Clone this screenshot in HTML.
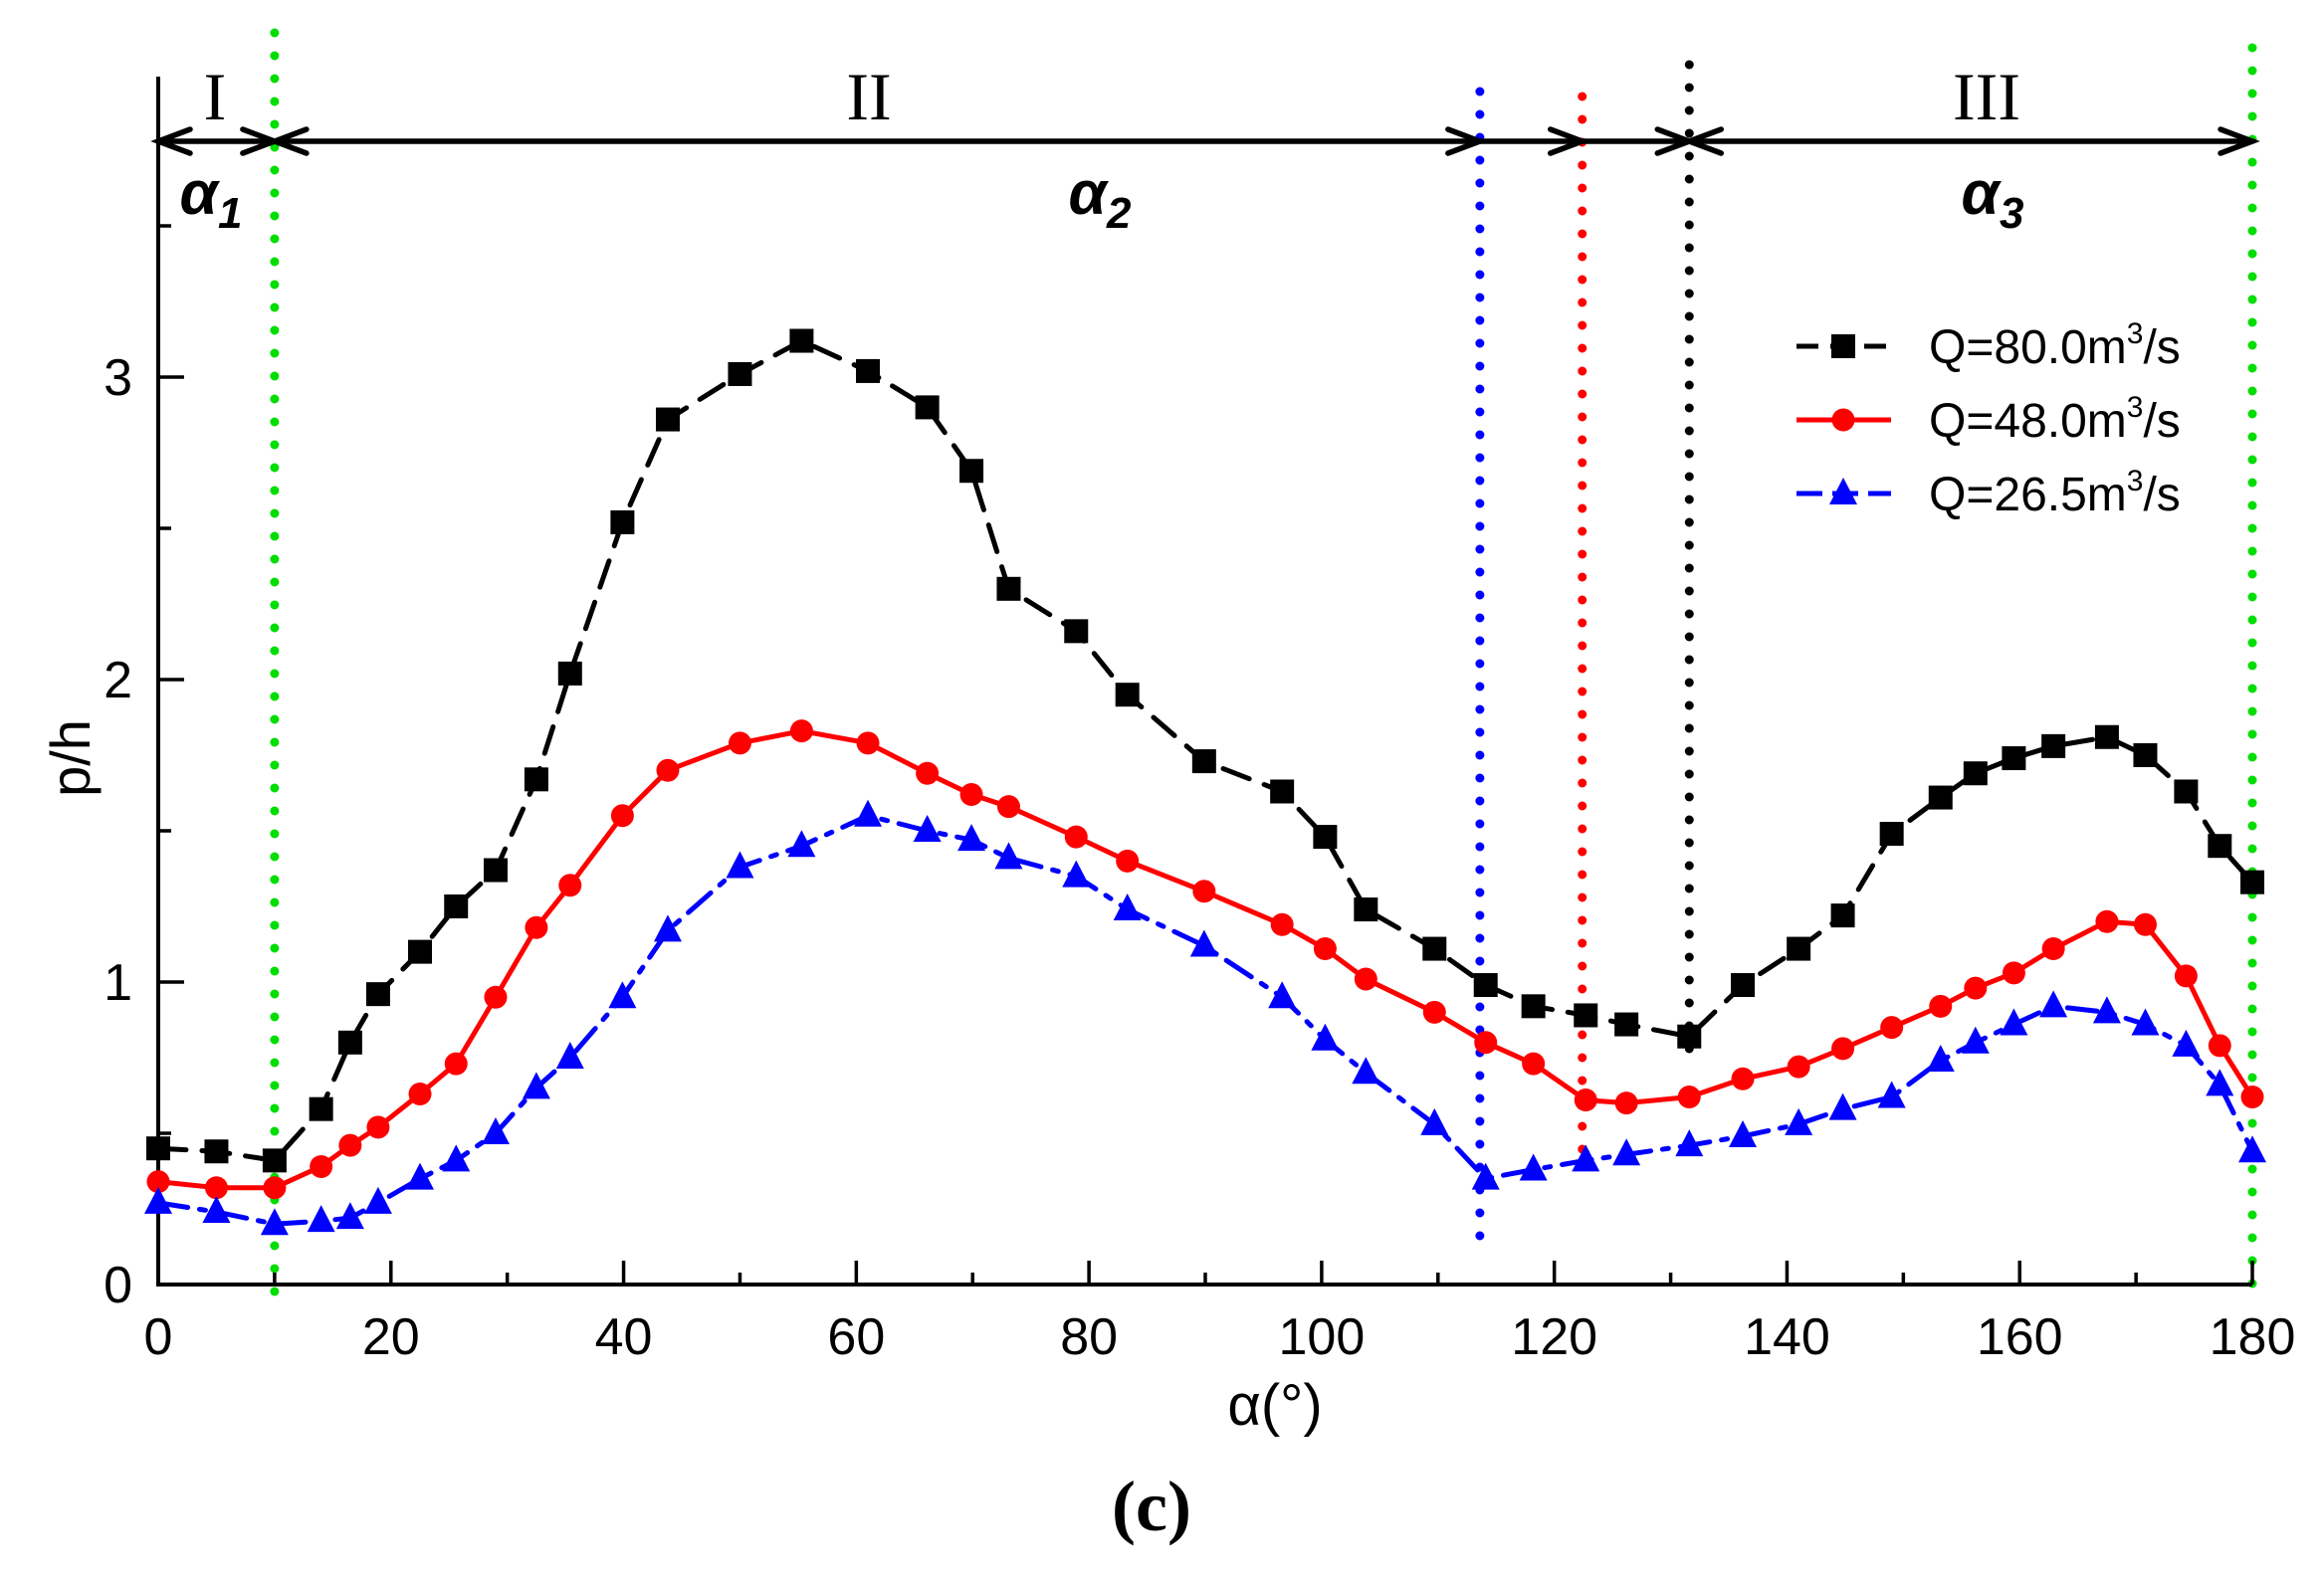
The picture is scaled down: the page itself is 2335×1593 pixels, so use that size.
<!DOCTYPE html>
<html><head><meta charset="utf-8">
<style>html,body{margin:0;padding:0;background:#fff;}svg{display:block;}</style>
</head><body>
<svg id="chart" width="2335" height="1593" viewBox="0 0 2335 1593" xmlns="http://www.w3.org/2000/svg" font-family="Liberation Sans, sans-serif">
<rect width="2335" height="1593" fill="#fff"/>
<g id="vlines"></g>
<g id="axes"></g>
<g id="series"></g>
<g id="annot"></g>
<g id="legend"></g>
</svg>
<script>
const angles=[0,5,10,14,16.5,18.9,22.5,25.6,29,32.5,35.4,39.9,43.8,50,55.3,61,66.1,69.9,73.1,78.9,83.3,89.9,96.6,100.3,103.8,109.7,114.1,118.2,122.7,126.2,131.6,136.2,141,144.8,149,153.2,156.2,159.5,162.9,167.5,170.8,174.3,177.2,180];
const q80=[0.45,0.44,0.41,0.58,0.80,0.96,1.10,1.25,1.37,1.67,2.02,2.52,2.86,3.01,3.12,3.02,2.90,2.69,2.30,2.16,1.95,1.73,1.63,1.48,1.24,1.11,0.99,0.92,0.89,0.86,0.82,0.99,1.11,1.22,1.49,1.61,1.69,1.74,1.78,1.81,1.75,1.63,1.45,1.33];
const q48=[0.34,0.32,0.32,0.39,0.46,0.52,0.63,0.73,0.95,1.18,1.32,1.55,1.70,1.79,1.83,1.79,1.69,1.62,1.58,1.48,1.40,1.30,1.19,1.11,1.01,0.90,0.80,0.73,0.61,0.60,0.62,0.68,0.72,0.78,0.85,0.92,0.98,1.03,1.11,1.20,1.19,1.02,0.79,0.62];
const q26=[0.27,0.24,0.20,0.21,0.22,0.27,0.35,0.41,0.50,0.65,0.75,0.95,1.17,1.38,1.45,1.55,1.50,1.47,1.41,1.35,1.24,1.12,0.95,0.81,0.70,0.53,0.35,0.38,0.41,0.43,0.46,0.49,0.53,0.58,0.62,0.74,0.80,0.86,0.92,0.90,0.86,0.79,0.66,0.44];
const xTicks=[0,20,40,60,80,100,120,140,160,180];
const yTicks=[0,1,2,3];
const boundaries=[10,113.6,122.4,131.6,180];

const NS='http://www.w3.org/2000/svg';
const X=a=>159+a*11.689;
const Y=v=>1291-v*304;
function mk(tag,attrs,parent){const e=document.createElementNS(NS,tag);for(const k in attrs)e.setAttribute(k,attrs[k]);parent.appendChild(e);return e;}
const axes=document.getElementById('axes');
const vl=document.getElementById('vlines');
const vcols=['#00dd00','#0000ff','#ff0000','#000','#00dd00'];
const vtop=[33,92,97,65,48];const vbot=[1305,1250,1162,1065,1305];
boundaries.forEach((b,i)=>{
 const l=mk('line',{x1:X(b),x2:X(b),y1:vtop[i],y2:vbot[i],stroke:vcols[i],'stroke-width':9,'stroke-dasharray':'0 23','stroke-linecap':'round'},vl);
 
 
});
const ax=mk('path',{d:`M159,77 V1291 H${X(180)}`,stroke:'#000','stroke-width':4,fill:'none'},axes);


for(let a=0;a<=180;a+=10){const major=a%20===0;mk('line',{x1:X(a),x2:X(a),y1:1291,y2:1291-(major?24:12),stroke:'#000','stroke-width':3.5},axes);}
for(let v=0;v<=3.5;v+=0.5){const major=v%1===0;mk('line',{x1:159,x2:159+(major?26:13),y1:Y(v),y2:Y(v),stroke:'#000','stroke-width':3.5},axes);}
xTicks.forEach(t=>{const e=mk('text',{x:X(t),y:1361,'font-size':52,'text-anchor':'middle'},axes);e.textContent=t;
 
 });
yTicks.forEach(t=>{const e=mk('text',{x:133,y:Y(t)+18,'font-size':52,'text-anchor':'end'},axes);e.textContent=t;
 
 });
const xt=mk('text',{x:1281,y:1432,'font-size':58,'text-anchor':'middle'},axes);xt.textContent='α(°)';


const yt=mk('text',{x:0,y:0,'font-size':56,'text-anchor':'middle',transform:'translate(90,762) rotate(-90)'},axes);yt.textContent='p/h';


const cap=mk('text',{x:1157,y:1538,'font-size':72,'font-weight':'bold','text-anchor':'middle','font-family':'Liberation Serif, serif'},axes);cap.textContent='(c)';



const sg=document.getElementById('series');
function marker(type,x,y,col,g){
 if(type==='sq')return mk('rect',{x:x-12,y:y-12,width:24,height:24,fill:col},g);
 if(type==='ci')return mk('circle',{cx:x,cy:y,r:11.5,fill:col},g);
 return mk('polygon',{points:`${x},${y-16} ${x-14},${y+11} ${x+14},${y+11}`,fill:col},g);
}
const series=[
 {vals:q80,col:'#000',dash:'28 16',m:'sq',name:'series-q80'},
 {vals:q48,col:'#ff0000',dash:'none',m:'ci',name:'series-q48'},
 {vals:q26,col:'#0000ff',dash:'30 12 6 12',m:'tr',name:'series-q26'}];
series.forEach(s=>{
 const g=mk('g',{},sg);
 
 
 const d=s.vals.map((v,i)=>(i?'L':'M')+X(angles[i]).toFixed(1)+','+Y(v).toFixed(1)).join(' ');
 mk('path',{d:d,fill:'none',stroke:s.col,'stroke-width':5,'stroke-dasharray':s.dash,'stroke-linecap':'round','stroke-linejoin':'round'},g);
 s.vals.forEach((v,i)=>{const m=marker(s.m,X(angles[i]),Y(v),s.col,g);
  
  });
});

const an=document.getElementById('annot');
const ay=142;
const segs=[[0,10,true,true],[10,113.6,true,true],[113.6,122.4,false,true],[122.4,131.6,false,true],[131.6,180,true,true]];
segs.forEach(s=>{
 const x1=X(s[0]),x2=X(s[1]);
 const g=mk('g',{stroke:'#000','stroke-width':5.5,fill:'none','stroke-linecap':'round'},an);
 
 
 mk('line',{x1:x1,x2:x2,y1:ay,y2:ay},g);
 if(s[2])mk('path',{d:`M${x1+32},${ay-12} L${x1},${ay} L${x1+32},${ay+12}`},g);
 if(s[3])mk('path',{d:`M${x2-32},${ay-12} L${x2},${ay} L${x2-32},${ay+12}`},g);
});
const labels=[['I',216,120],['II',873,120],['III',1996,120]];
labels.forEach(l=>{const e=mk('text',{x:l[1],y:l[2],'font-size':68,'text-anchor':'middle','font-family':'Liberation Serif, serif'},an);e.textContent=l[0];
 
 });
const alphas=[['1',212],['2',1105],['3',2002]];
alphas.forEach(a=>{const e=mk('text',{x:a[1],y:215,'font-size':62,'font-weight':'bold','font-style':'italic','text-anchor':'middle'},an);
 e.innerHTML='α<tspan font-size="44" dy="14">'+a[0]+'</tspan>';
 
 });

const lg=document.getElementById('legend');
const legTxt=['Q=80.0m','Q=48.0m','Q=26.5m'];
series.forEach((s,i)=>{
 const y=348+i*74;
 const g=mk('g',{},lg);
 
 
 mk('line',{x1:1805,x2:1900,y1:y,y2:y,stroke:s.col,'stroke-width':5,'stroke-dasharray':s.m==='sq'?'22 12':(s.m==='tr'?'26 10':'none')},g);
 marker(s.m,1852,y,s.col,g);
 const t=mk('text',{x:1938,y:y+17,'font-size':48},g);
 t.innerHTML=legTxt[i]+'<tspan font-size="30" dy="-20">3</tspan><tspan dy="20">/s</tspan>';
});
</script>
</body></html>
